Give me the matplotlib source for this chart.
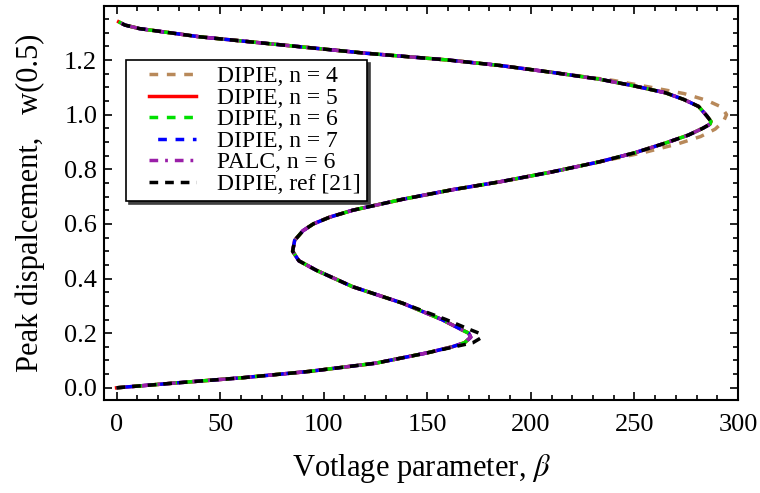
import matplotlib
matplotlib.use("Agg")
import matplotlib.pyplot as plt
from matplotlib.ticker import MultipleLocator
from matplotlib.legend_handler import HandlerLine2D

plt.rcParams['font.family'] = ['Liberation Serif', 'DejaVu Serif']
plt.rcParams['mathtext.fontset'] = 'stix'

# curve, in order from (0, 0) along the S shape
beta_base = [0, 29, 61, 93, 125, 150, 162, 168, 171, 170, 166, 157, 138, 114, 96.5,
             88, 85, 86, 90, 95, 103, 114, 138, 162, 185, 210, 233, 250, 265, 276,
             283, 286.5, 287, 285, 281, 274, 265, 250, 233, 210, 185, 160, 120, 80,
             40, 11, 4, 1]
w_base = [0, 0.018, 0.037, 0.06, 0.09, 0.128, 0.15, 0.165, 0.185, 0.20, 0.215, 0.25, 0.31,
          0.37, 0.43, 0.465, 0.50, 0.54, 0.575, 0.60, 0.625, 0.65, 0.69, 0.725, 0.754,
          0.79, 0.827, 0.86, 0.896, 0.925, 0.95, 0.965, 0.975, 0.995, 1.03, 1.055, 1.08,
          1.105, 1.13, 1.155, 1.18, 1.20, 1.225, 1.255, 1.285, 1.315, 1.328, 1.34]

# n = 4 overshoots the upper turning point
beta_n4 = [0, 29, 61, 93, 125, 150, 162, 168, 171, 170, 166, 157, 138, 114, 96.5,
           88, 85, 86, 90, 95, 103, 114, 138, 162, 185, 210, 233, 255, 271, 282,
           289, 293, 294.5, 292, 285, 274, 258, 240, 210, 185, 160, 120, 80,
           40, 11, 4, 1]
w_n4 = [0, 0.018, 0.037, 0.06, 0.09, 0.128, 0.15, 0.165, 0.185, 0.20, 0.215, 0.25, 0.31,
        0.37, 0.43, 0.465, 0.50, 0.54, 0.575, 0.60, 0.625, 0.65, 0.69, 0.725, 0.754,
        0.79, 0.827, 0.862, 0.893, 0.92, 0.947, 0.975, 1.0, 1.028, 1.052, 1.077,
        1.10, 1.125, 1.155, 1.18, 1.20, 1.225, 1.255, 1.285, 1.315, 1.328, 1.34]

# ref [21] overshoots the lower turning point
beta_ref = [0, 29, 61, 93, 125, 150, 163, 172, 176, 175, 170, 159, 138, 114, 96.5,
            88, 85, 86, 90, 95, 103, 114, 138, 162, 185, 210, 233, 250, 265, 276,
            283, 286.5, 287, 285, 281, 274, 265, 250, 233, 210, 185, 160, 120, 80,
            40, 11, 4, 1]
w_ref = [0, 0.018, 0.037, 0.06, 0.09, 0.128, 0.15, 0.165, 0.183, 0.20, 0.215, 0.25, 0.31,
         0.37, 0.43, 0.465, 0.50, 0.54, 0.575, 0.60, 0.625, 0.65, 0.69, 0.725, 0.754,
         0.79, 0.827, 0.86, 0.896, 0.925, 0.95, 0.965, 0.975, 0.995, 1.03, 1.055, 1.08,
         1.105, 1.13, 1.155, 1.18, 1.20, 1.225, 1.255, 1.285, 1.315, 1.328, 1.34]

labels = ["DIPIE, n = 4", "DIPIE, n = 5", "DIPIE, n = 6", "DIPIE, n = 7",
          "PALC, n = 6", "DIPIE, ref [21]"]


class IndentedLine(HandlerLine2D):
    # draws the legend sample shifted right inside its slot
    def create_artists(self, legend, orig_handle, xdescent, ydescent, width, height,
                       fontsize, trans):
        shift = 12
        return super().create_artists(legend, orig_handle, xdescent - shift, ydescent,
                                      width - shift, height, fontsize, trans)


fig = plt.figure(figsize=(7.6, 4.93), dpi=100)
ax = fig.add_axes([0.137, 0.189, 0.834, 0.799])

lw = 2.5
ax.plot(beta_n4, w_n4, color="#b8895a", lw=lw, dashes=(2.5, 2.5), label=labels[0])
ax.plot(beta_base, w_base, color="red", lw=lw, label=labels[1])
ax.plot(beta_base, w_base, color="#00e000", lw=lw, dashes=(2.5, 2.5), label=labels[2])
ax.plot(beta_base, w_base, color="blue", lw=lw, linestyle=(2.5, (2.5, 2.5)), label=labels[3])
ax.plot(beta_base, w_base, color="#9a1fa8", lw=lw, dashes=(2.5, 2, 0.8, 2), label=labels[4])
ax.plot(beta_ref, w_ref, color="black", lw=lw, dashes=(2.5, 2), label=labels[5])

ax.set_xlim(-6, 300)
ax.set_ylim(-0.044, 1.398)
ax.xaxis.set_major_locator(MultipleLocator(50))
ax.xaxis.set_minor_locator(MultipleLocator(10))
ax.yaxis.set_major_locator(MultipleLocator(0.2))
ax.yaxis.set_minor_locator(MultipleLocator(0.05))
ax.yaxis.set_major_formatter(plt.FormatStrFormatter('%.1f'))
ax.tick_params(which='both', direction='in', top=True, right=True, labelsize=19, width=1.2)
ax.tick_params(which='major', length=6)
ax.tick_params(which='minor', length=3.5)
ax.tick_params(axis='x', pad=10)
ax.tick_params(axis='y', pad=5)
for s in ax.spines.values():
    s.set_linewidth(1.5)

ax.set_xlabel(r"Votlage parameter, $\beta$", fontsize=22, labelpad=12)
ax.set_ylabel("Peak dispalcement,   w(0.5)", fontsize=22, labelpad=14)

leg = ax.legend(loc='upper left', bbox_to_anchor=(0.035, 0.863), borderaxespad=0,
                fontsize=17, frameon=True, fancybox=False, edgecolor='black',
                handlelength=2.7, borderpad=0.25, labelspacing=0.0, handletextpad=0.9,
                handler_map={plt.Line2D: IndentedLine()},
                shadow={'ox': 2, 'oy': -2, 'color': '0.25', 'alpha': 1})
leg.get_frame().set_linewidth(1.2)

plt.savefig("out.png", dpi=100)
